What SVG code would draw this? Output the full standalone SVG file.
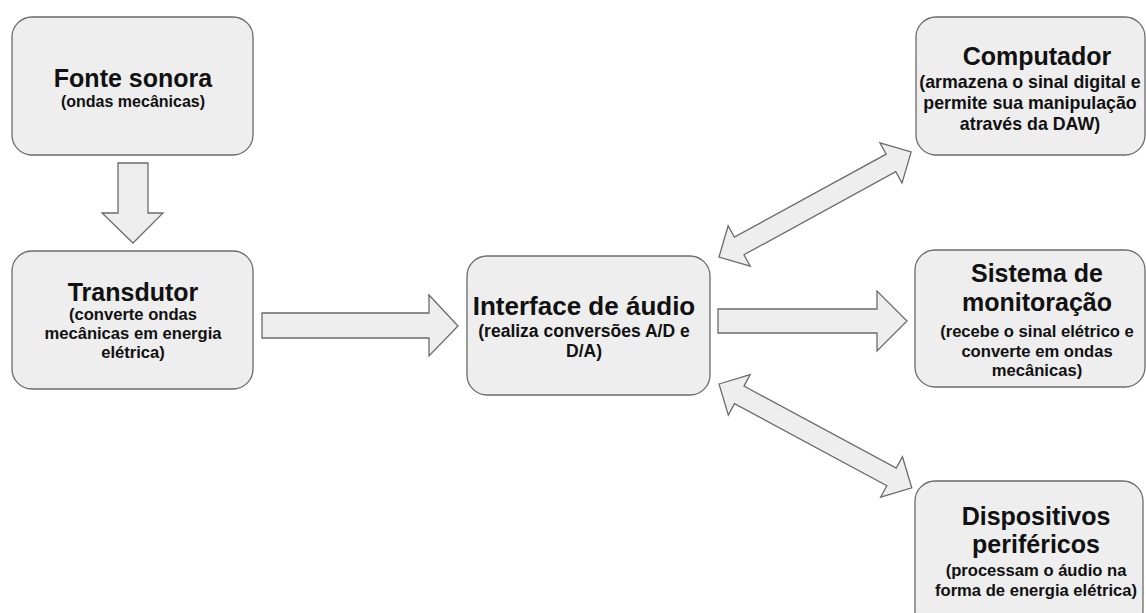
<svg xmlns="http://www.w3.org/2000/svg" width="1146" height="613" viewBox="0 0 1146 613">
  <style>
    .box { fill: #eeeeee; stroke: #6b6b6b; stroke-width: 1.3; }
    .arrow { fill: #eeeeee; stroke: #6b6b6b; stroke-width: 1.3; stroke-linejoin: miter; }
    text { font-family: "Liberation Sans", Arial, sans-serif; font-weight: bold; fill: #111111; text-anchor: middle; }
    .title { font-size: 25px; }
    .sub { font-size: 16.6px; }
  </style>
  <defs>
    <!-- two-headed block arrow, drawn along +x from 0 to 219 -->
    <path id="dbl" d="M0,0 L23,-23 L23,-10 L196,-10 L196,-23 L219,0 L196,23 L196,10 L23,10 L23,23 Z"/>
  </defs>
  <rect width="1146" height="613" fill="#ffffff"/>

  <g id="connectors">
    <polygon class="arrow" points="118,163 148,163 148,213 163,213 133,243 102,213 118,213"/>
    <polygon class="arrow" points="262,313 429,313 429,295 458,326 429,356 429,338 262,338"/>
    <polygon class="arrow" points="718,309 877,309 877,291 907,321 877,351 877,333 718,333"/>
    <use href="#dbl" class="arrow" transform="translate(719,257) rotate(-28.67)"/>
    <use href="#dbl" class="arrow" transform="translate(719,384) rotate(28.32)"/>
  </g>

  <g id="fonte-sonora">
    <rect class="box" x="12" y="17" width="241" height="138" rx="20"/>
    <text class="title" x="133" y="87">Fonte sonora</text>
    <text class="sub" x="133" y="107" style="font-size:16px">(ondas mecânicas)</text>
  </g>

  <g id="transdutor">
    <rect class="box" x="12" y="251" width="241" height="138" rx="20"/>
    <text class="title" x="133" y="301">Transdutor</text>
    <text class="sub" x="133" y="320">(converte ondas</text>
    <text class="sub" x="133" y="339">mecânicas em energia</text>
    <text class="sub" x="133" y="358">elétrica)</text>
  </g>

  <g id="interface-audio">
    <rect class="box" x="467" y="256" width="243" height="139" rx="20"/>
    <text class="title" x="584" y="315" style="font-size:26px">Interface de áudio</text>
    <text class="sub" x="584" y="337" style="font-size:17.5px">(realiza conversões A/D e</text>
    <text class="sub" x="584" y="357" style="font-size:17.5px">D/A)</text>
  </g>

  <g id="computador">
    <rect class="box" x="916" y="17" width="229" height="138" rx="20"/>
    <text class="title" x="1037" y="65">Computador</text>
    <text class="sub" x="1030" y="88" style="font-size:17.8px">(armazena o sinal digital e</text>
    <text class="sub" x="1030" y="109" style="font-size:17.8px">permite sua manipulação</text>
    <text class="sub" x="1030" y="130" style="font-size:17.8px">através da DAW)</text>
  </g>

  <g id="sistema-monitoracao">
    <rect class="box" x="915" y="250" width="230" height="137" rx="20"/>
    <text class="title" x="1037" y="282">Sistema de</text>
    <text class="title" x="1037" y="311">monitoração</text>
    <text class="sub" x="1037" y="337">(recebe o sinal elétrico e</text>
    <text class="sub" x="1037" y="357">converte em ondas</text>
    <text class="sub" x="1037" y="376">mecânicas)</text>
  </g>

  <g id="dispositivos-perifericos">
    <rect class="box" x="915" y="481" width="228" height="150" rx="20"/>
    <text class="title" x="1036" y="525">Dispositivos</text>
    <text class="title" x="1036" y="553">periféricos</text>
    <text class="sub" x="1036" y="576">(processam o áudio na</text>
    <text class="sub" x="1036" y="596">forma de energia elétrica)</text>
  </g>
</svg>
